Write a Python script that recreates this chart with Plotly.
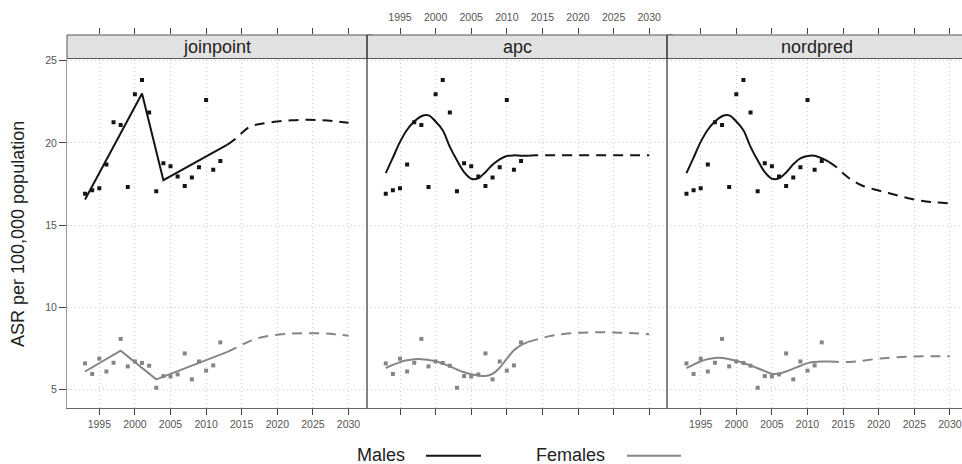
import plotly.graph_objects as go

# ---------------- data ----------------
years = list(range(1993, 2013))
male_obs = [16.90, 17.12, 17.24, 18.69, 21.26, 21.08, 17.32, 22.95, 23.82, 21.85,
            17.06, 18.76, 18.58, 17.95, 17.38, 17.89, 18.52, 22.60, 18.36, 18.90]
female_obs = [6.59, 5.95, 6.88, 6.10, 6.63, 8.08, 6.41, 6.71, 6.62, 6.45,
              5.11, 5.82, 5.80, 5.92, 7.20, 5.62, 6.71, 6.15, 6.47, 7.87]

# joinpoint fitted (knots)
jp_male_years = [1993, 2001, 2004, 2013]
jp_male_fit = [16.56, 23.00, 17.73, 19.89]
jp_female_years = [1993, 1998, 2003, 2013]
jp_female_fit = [6.10, 7.36, 5.62, 7.29]

# smooth fitted curves (apc, nordpred)
fit_years = list(range(1993, 2014))
apc_male_fit = [18.16, 19.10, 20.06, 20.80, 21.30, 21.62, 21.67, 21.30, 20.77, 19.76,
                18.94, 18.22, 17.82, 17.85, 18.22, 18.67, 19.00, 19.20, 19.24, 19.22, 19.22]
apc_female_fit = [6.31, 6.50, 6.67, 6.78, 6.84, 6.85, 6.80, 6.73, 6.58, 6.41,
                  6.22, 6.05, 5.93, 5.85, 5.83, 5.96, 6.33, 6.88, 7.39, 7.70, 7.90]
nord_male_fit = [18.16, 19.10, 20.06, 20.80, 21.30, 21.62, 21.67, 21.30, 20.77, 19.76,
                 18.94, 18.22, 17.82, 17.85, 18.20, 18.70, 19.06, 19.20, 19.22, 19.07, 18.85]
nord_female_fit = [6.31, 6.52, 6.72, 6.85, 6.92, 6.92, 6.85, 6.75, 6.62, 6.47,
                   6.30, 6.12, 5.96, 5.97, 6.10, 6.27, 6.45, 6.61, 6.68, 6.71, 6.71]

# projections
proj_years = [2013, 2014, 2015, 2016, 2017, 2018, 2020, 2022, 2024, 2026, 2028, 2030]
jp_male_proj = [19.89, 20.20, 20.60, 20.95, 21.10, 21.18, 21.30, 21.37, 21.40, 21.38, 21.32, 21.22]
jp_female_proj = [7.29, 7.50, 7.72, 7.92, 8.08, 8.20, 8.34, 8.41, 8.43, 8.42, 8.37, 8.27]
apc_male_proj = [19.22, 19.24, 19.25, 19.25, 19.25, 19.25, 19.25, 19.25, 19.25, 19.25, 19.25, 19.25]
apc_female_proj = [7.90, 8.02, 8.14, 8.25, 8.32, 8.38, 8.45, 8.48, 8.48, 8.46, 8.42, 8.36]
nord_male_proj = [18.85, 18.55, 18.15, 17.80, 17.55, 17.35, 17.10, 16.88, 16.65, 16.48, 16.38, 16.33]
nord_female_proj = [6.71, 6.69, 6.67, 6.68, 6.72, 6.77, 6.88, 6.95, 7.00, 7.02, 7.02, 7.02]

panels = ["joinpoint", "apc", "nordpred"]
xticks = [1995, 2000, 2005, 2010, 2015, 2020, 2025, 2030]
yticks = [5, 10, 15, 20, 25]

# ---------------- layout geometry ----------------
W, H = 962, 464
mt, mb = 35, 56
plot_h = H - mt - mb
ytop = (H - mb - 58.5) / plot_h
edges = [67, 367, 667, 962]
ppy = 7.12
x1995 = [99.3, 400.0, 700.7]

MALE_C = "#141414"
FEMALE_C = "#858585"
FONT = "Liberation Sans, Arial, sans-serif"
GRID_C = "#cccccc"
GRID_DASH = "1px,3px"
TICK_C = "#444"

fig = go.Figure()

panel_data = [
    (jp_male_years, jp_male_fit, jp_female_years, jp_female_fit, jp_male_proj, jp_female_proj, "linear"),
    (fit_years, apc_male_fit, fit_years, apc_female_fit, apc_male_proj, apc_female_proj, "spline"),
    (fit_years, nord_male_fit, fit_years, nord_female_fit, nord_male_proj, nord_female_proj, "spline"),
]

for i, (mx, mf, fx, ff, mp, fp, shape) in enumerate(panel_data):
    xa = "x" if i == 0 else f"x{i+1}"
    ya = "y" if i == 0 else f"y{i+1}"
    common = dict(xaxis=xa, yaxis=ya, showlegend=False, hoverinfo="skip")
    fig.add_trace(go.Scatter(x=years, y=male_obs, mode="markers",
                             marker=dict(symbol="square", size=4, color=MALE_C), **common))
    fig.add_trace(go.Scatter(x=years, y=female_obs, mode="markers",
                             marker=dict(symbol="square", size=4, color=FEMALE_C), **common))
    fig.add_trace(go.Scatter(x=mx, y=mf, mode="lines",
                             line=dict(color=MALE_C, width=2, shape=shape, smoothing=1.0), **common))
    fig.add_trace(go.Scatter(x=fx, y=ff, mode="lines",
                             line=dict(color=FEMALE_C, width=2, shape=shape, smoothing=1.0), **common))
    fig.add_trace(go.Scatter(x=proj_years, y=mp, mode="lines",
                             line=dict(color=MALE_C, width=2, dash="10px,7px", shape="spline", smoothing=1.0), **common))
    fig.add_trace(go.Scatter(x=proj_years, y=fp, mode="lines",
                             line=dict(color=FEMALE_C, width=2, dash="10px,7px", shape="spline", smoothing=1.0), **common))
    # dummy trace for the strip subplot (carries the top axis)
    fig.add_trace(go.Scatter(x=[], y=[], xaxis=f"x{i+4}", yaxis=f"y{i+4}",
                             showlegend=False, hoverinfo="skip"))

layout = dict(
    width=W, height=H,
    margin=dict(l=0, r=0, t=mt, b=mb),
    paper_bgcolor="white", plot_bgcolor="rgba(0,0,0,0)",
    font=dict(family=FONT, color="#222"),
    showlegend=False,
)

tickfont = dict(family=FONT, size=10.5, color="#555")
for i in range(3):
    left, right = edges[i], edges[i + 1]
    lo = 1995 - (x1995[i] - left) / ppy
    hi = 1995 + (right - x1995[i]) / ppy
    key = "xaxis" if i == 0 else f"xaxis{i+1}"
    layout[key] = dict(
        domain=[left / W, right / W], range=[lo, hi],
        anchor="y" if i == 0 else f"y{i+1}",
        tickvals=xticks, showticklabels=(i != 1), tickfont=tickfont,
        ticks="outside", ticklen=6, tickcolor=TICK_C, tickwidth=1,
        showline=True, linecolor="#666", linewidth=1,
        showgrid=True, gridcolor=GRID_C, griddash=GRID_DASH, gridwidth=1,
        zeroline=False, fixedrange=True,
    )
    # top axis on a strip-sized subplot
    layout[f"xaxis{i+4}"] = dict(
        domain=[left / W, right / W], range=[lo, hi],
        anchor=f"y{i+4}", side="top",
        tickvals=xticks, showticklabels=(i == 1), tickfont=tickfont,
        ticks="outside", ticklen=6, tickcolor=TICK_C, tickwidth=1,
        ticklabelstandoff=3,
        showline=False, showgrid=False, zeroline=False, fixedrange=True,
    )
    layout[f"yaxis{i+4}"] = dict(
        domain=[ytop, 1.0], range=[0, 1], anchor=f"x{i+4}",
        visible=False, showgrid=False, zeroline=False, fixedrange=True,
    )
    ykey = "yaxis" if i == 0 else f"yaxis{i+1}"
    layout[ykey] = dict(
        domain=[0, ytop], range=[3.88, 25.13],
        anchor="x" if i == 0 else f"x{i+1}",
        tickvals=yticks, showticklabels=(i == 0), tickfont=tickfont,
        ticks="outside" if i == 0 else "", ticklen=7, tickcolor=TICK_C,
        showline=(i == 0), linecolor="#999", linewidth=1,
        showgrid=True, gridcolor=GRID_C, griddash=GRID_DASH, gridwidth=1,
        zeroline=False, fixedrange=True,
    )

shapes = []
annotations = []
for i, name in enumerate(panels):
    left, right = edges[i], edges[i + 1]
    shapes.append(dict(type="rect", xref="paper", yref="paper",
                       x0=left / W, x1=min(right + 6, W + 6) / W, y0=ytop, y1=1.0,
                       fillcolor="#e2e2e2", line=dict(color="#555", width=1), layer="above"))
    center = (left + left + 300) / 2
    annotations.append(dict(text=name, xref="paper", yref="paper",
                            x=center / W, y=(H - mb - 47) / plot_h,
                            showarrow=False, xanchor="center", yanchor="middle",
                            font=dict(family=FONT, size=18, color="#222")))
for xpx in (367, 667):
    shapes.append(dict(type="line", xref="paper", yref="paper",
                       x0=xpx / W, x1=xpx / W, y0=0, y1=1.0,
                       line=dict(color="#333", width=1.2)))

# y title
annotations.append(dict(text="ASR per 100,000 population", xref="paper", yref="paper",
                        x=18 / W, y=(H - mb - 234) / plot_h, textangle=-90,
                        showarrow=False, xanchor="center", yanchor="middle",
                        font=dict(family=FONT, size=18, color="#222")))

# legend
ly_line = (H - mb - 455.7) / plot_h
ly_text = (H - mb - 454.5) / plot_h
annotations.append(dict(text="Males", xref="paper", yref="paper", x=381 / W, y=ly_text,
                        showarrow=False, xanchor="center", yanchor="middle",
                        font=dict(family=FONT, size=18, color="#222")))
annotations.append(dict(text="Females", xref="paper", yref="paper", x=570 / W, y=ly_text,
                        showarrow=False, xanchor="center", yanchor="middle",
                        font=dict(family=FONT, size=18, color="#222")))
shapes.append(dict(type="line", xref="paper", yref="paper", x0=426 / W, x1=481 / W,
                   y0=ly_line, y1=ly_line, line=dict(color=MALE_C, width=2)))
shapes.append(dict(type="line", xref="paper", yref="paper", x0=627 / W, x1=681 / W,
                   y0=ly_line, y1=ly_line, line=dict(color=FEMALE_C, width=2)))

layout["shapes"] = shapes
layout["annotations"] = annotations
fig.update_layout(**layout)

fig.write_html("out.html",
               config={"displayModeBar": False, "staticPlot": True},
               post_script="document.body.style.margin='0';document.body.style.padding='0';")
